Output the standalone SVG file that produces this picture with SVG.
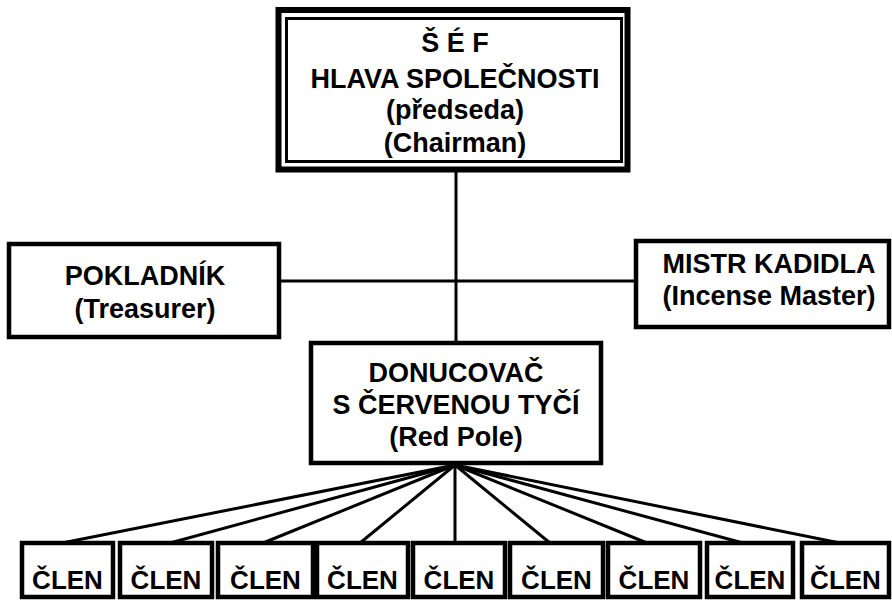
<svg xmlns="http://www.w3.org/2000/svg" width="892" height="604" viewBox="0 0 892 604">
<style>
.box{fill:#fff;stroke:#000;stroke-width:4.5}
.t{font-family:"Liberation Sans",Arial,sans-serif;font-weight:bold;font-size:27px;fill:#000;text-anchor:middle}
.c{font-size:26px}
.ln{stroke:#000;stroke-width:3;fill:none}
</style>
<rect width="892" height="604" fill="#fff"/>
<g id="connectors">
<line class="ln" x1="456" y1="170" x2="456" y2="343"/>
<line class="ln" x1="279" y1="281" x2="636" y2="281"/>
<line class="ln" x1="455" y1="465" x2="62" y2="543"/>
<line class="ln" x1="455" y1="465" x2="170" y2="543"/>
<line class="ln" x1="455" y1="465" x2="263" y2="543"/>
<line class="ln" x1="455" y1="465" x2="360" y2="543"/>
<line class="ln" x1="455" y1="465" x2="455" y2="543"/>
<line class="ln" x1="455" y1="465" x2="550" y2="543"/>
<line class="ln" x1="455" y1="465" x2="647" y2="543"/>
<line class="ln" x1="455" y1="465" x2="743" y2="543"/>
<line class="ln" x1="455" y1="465" x2="840" y2="543"/>
</g>
<g id="sef">
<rect x="278.5" y="10" width="349" height="159.5" fill="#fff" stroke="#000" stroke-width="6"/>
<rect x="286.5" y="18.5" width="335" height="143" fill="none" stroke="#000" stroke-width="3"/>
<text class="t" x="455" y="52">Š É F</text>
<text class="t" x="455" y="88">HLAVA SPOLEČNOSTI</text>
<text class="t" x="455" y="119">(předseda)</text>
<text class="t" x="455" y="152">(Chairman)</text>
</g>
<g id="pokladnik">
<rect class="box" x="9" y="244" width="270" height="93"/>
<text class="t" x="145" y="285">POKLADNÍK</text>
<text class="t" x="145" y="318">(Treasurer)</text>
</g>
<g id="mistr">
<rect class="box" x="636" y="241" width="253" height="86"/>
<text class="t" x="769" y="273">MISTR KADIDLA</text>
<text class="t" x="769" y="305">(Incense Master)</text>
</g>
<g id="donucovac">
<rect class="box" x="311" y="343" width="290" height="120"/>
<text class="t" x="456" y="382">DONUCOVAČ</text>
<text class="t" x="456" y="414">S ČERVENOU TYČÍ</text>
<text class="t" x="456" y="446">(Red Pole)</text>
</g>
<g id="clen1"><rect class="box" x="22" y="543" width="91" height="54"/><text class="t c" x="67.5" y="589">ČLEN</text></g>
<g id="clen2"><rect class="box" x="120" y="543" width="92" height="54"/><text class="t c" x="166" y="589">ČLEN</text></g>
<g id="clen3"><rect class="box" x="218" y="543" width="95" height="54"/><text class="t c" x="265.5" y="589">ČLEN</text></g>
<g id="clen4"><rect class="box" x="317" y="543" width="91" height="54"/><text class="t c" x="362.5" y="589">ČLEN</text></g>
<g id="clen5"><rect class="box" x="413" y="543" width="92" height="54"/><text class="t c" x="459" y="589">ČLEN</text></g>
<g id="clen6"><rect class="box" x="510" y="543" width="93" height="54"/><text class="t c" x="556.5" y="589">ČLEN</text></g>
<g id="clen7"><rect class="box" x="608" y="543" width="92" height="54"/><text class="t c" x="654" y="589">ČLEN</text></g>
<g id="clen8"><rect class="box" x="707" y="543" width="86" height="54"/><text class="t c" x="750" y="589">ČLEN</text></g>
<g id="clen9"><rect class="box" x="802" y="543" width="87" height="54"/><text class="t c" x="845.5" y="589">ČLEN</text></g>
</svg>
